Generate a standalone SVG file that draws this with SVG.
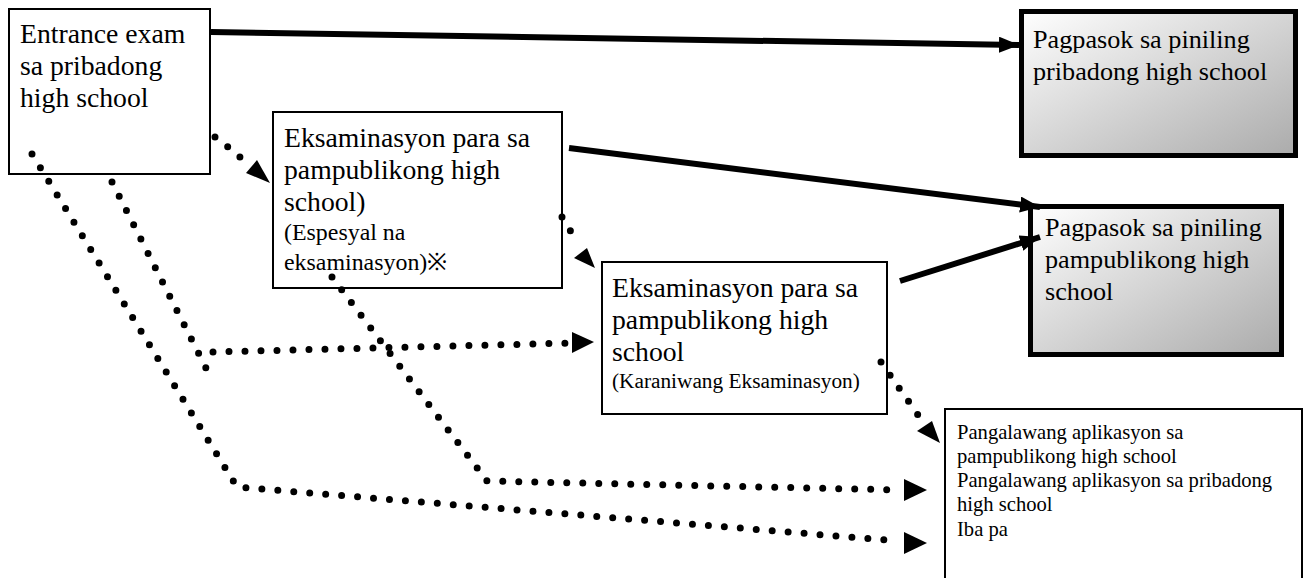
<svg xmlns="http://www.w3.org/2000/svg" width="1304" height="578" viewBox="0 0 1304 578">
<style>
.box{fill:#fff;stroke:#000;stroke-width:2}
.tbox{fill:url(#grad);stroke:#000;stroke-width:5}
text{font-family:'Liberation Serif','Times New Roman',serif;fill:#000}
.t{font-size:27.7px}
.r{font-size:26.2px}
.e{font-size:23.9px}
.s{font-size:21.3px}
.m{font-size:20.6px}
.thick{fill:none;stroke:#000;stroke-width:6}
.dot{fill:none;stroke:#000;stroke-width:7;stroke-linecap:round;stroke-dasharray:0 16}
</style>
<defs>
<linearGradient id="grad" x1="0" y1="0" x2="1" y2="1">
<stop offset="0" stop-color="#ffffff"/>
<stop offset="1" stop-color="#ababab"/>
</linearGradient>
<marker id="ah" markerUnits="userSpaceOnUse" markerWidth="24" markerHeight="24" refX="20" refY="8" orient="auto">
<path d="M0,0 L20,8 L0,16 Z" fill="#000"/>
</marker>
</defs>

<g id="node-entrance">
<rect class="box" x="9" y="9" width="201" height="165"/>
<text class="t" x="20" y="43">Entrance exam</text>
<text class="t" x="20" y="75">sa pribadong</text>
<text class="t" x="20" y="107">high school</text>
</g>

<g id="node-private-admit">
<rect class="tbox" x="1021.5" y="11.5" width="274" height="144"/>
<text class="r" x="1033" y="48">Pagpasok sa piniling</text>
<text class="r" x="1033" y="80">pribadong high school</text>
</g>

<g id="node-special">
<rect class="box" x="273" y="112" width="289" height="176"/>
<text class="t" x="284" y="147">Eksaminasyon para sa</text>
<text class="t" x="284" y="179">pampublikong high</text>
<text class="t" x="284" y="211">school)</text>
<text class="e" x="284" y="240">(Espesyal na</text>
<text class="e" x="284" y="270">eksaminasyon)※</text>
</g>

<g id="node-public-admit">
<rect class="tbox" x="1030.5" y="206.5" width="251" height="148"/>
<text class="r" x="1045" y="236">Pagpasok sa piniling</text>
<text class="r" x="1045" y="268">pampublikong high</text>
<text class="r" x="1045" y="300">school</text>
</g>

<g id="node-regular">
<rect class="box" x="602" y="262" width="285" height="152"/>
<text class="t" x="612" y="297">Eksaminasyon para sa</text>
<text class="t" x="612" y="329">pampublikong high</text>
<text class="t" x="612" y="361">school</text>
<text class="s" x="612" y="388">(Karaniwang Eksaminasyon)</text>
</g>

<g id="node-second">
<rect class="box" x="945" y="409" width="357" height="180"/>
<text class="m" x="957" y="439">Pangalawang aplikasyon sa</text>
<text class="m" x="957" y="463">pampublikong high school</text>
<text class="m" x="957" y="487">Pangalawang aplikasyon sa pribadong</text>
<text class="m" x="957" y="511">high school</text>
<text class="m" x="957" y="536">Iba pa</text>
</g>

<g id="connectors">
<line class="thick" x1="211" y1="32" x2="1019" y2="45" marker-end="url(#ah)"/>
<line class="thick" x1="569" y1="148" x2="1040" y2="207" marker-end="url(#ah)"/>
<line class="thick" x1="900" y1="281" x2="1040" y2="237" marker-end="url(#ah)"/>
<polyline class="dot" points="215,137 228,147 241,158"/>
<path d="M270,183 L246,173 L257,160 Z" fill="#000"/>
<polyline class="dot" points="562,217 570,230 578,244"/>
<path d="M595,268 L574,258 L587,248 Z" fill="#000"/>
<polyline class="dot" points="881,362 890,375 899,388 909,402 918,415"/>
<path d="M940,443 L917,431 L932,421 Z" fill="#000"/>
<polyline class="dot" points="112,182 207,370"/>
<polyline class="dot" points="213,352 572,343"/>
<path d="M594,342 L572,332 L572,353 Z" fill="#000"/>
<polyline class="dot" points="32,154 237,487 898,541"/>
<path d="M927,543 L904,532 L904,554 Z" fill="#000"/>
<polyline class="dot" points="332,277 487,481 900,490"/>
<path d="M927,490 L904,479 L904,501 Z" fill="#000"/>
</g>
</svg>
